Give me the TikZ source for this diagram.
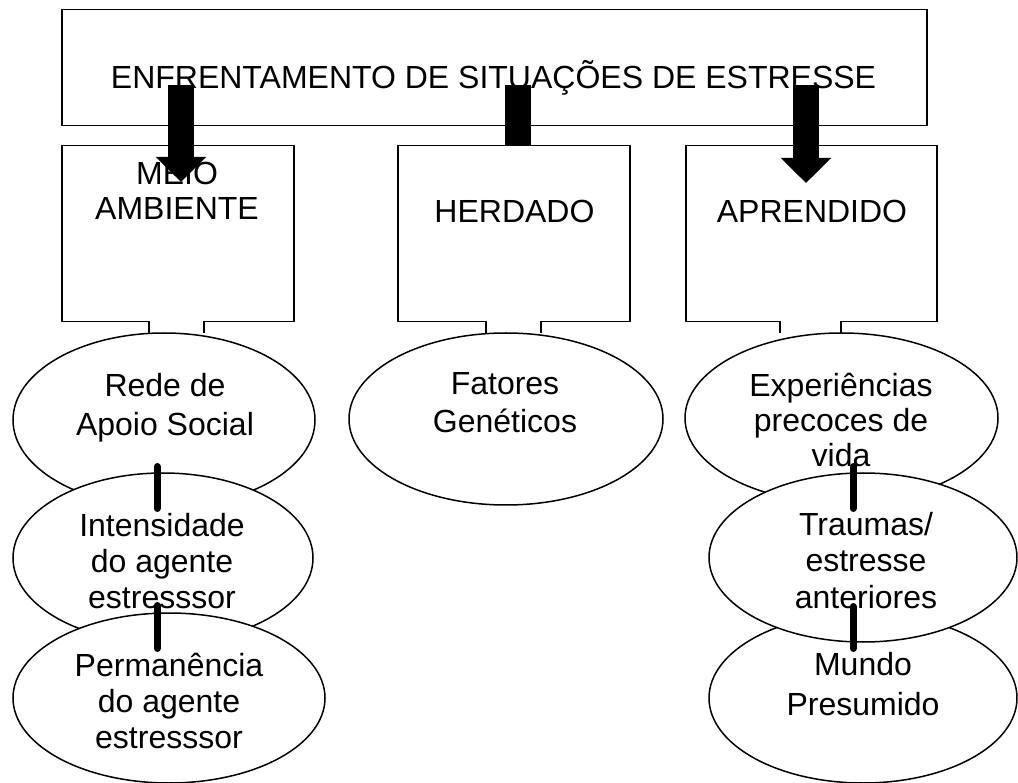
\documentclass[tikz,border=0pt]{standalone}
\usepackage{fontspec}
\setmainfont{Liberation Sans}
\usetikzlibrary{shapes.geometric,arrows.meta}
\begin{document}
\begin{tikzpicture}[x=1pt,y=-1pt,
  box/.style={draw, line width=1.5pt, fill=white, rectangle, inner sep=0pt, anchor=north west},
  ell/.style={draw, line width=1.5pt, fill=white, ellipse, inner sep=0pt},
  txt/.style={align=center, font=\fontsize{32}{37}\selectfont, inner sep=0pt, anchor=base},
  notch/.style={line width=1.5pt},
  gap/.style={white, line width=2.5pt},
  bigarrow/.style={line width=26pt, -{Triangle[width=49pt,length=25pt]}},
  shaft/.style={line width=26pt},
  link/.style={line width=7pt, line cap=round}]
\useasboundingbox (0,0) rectangle (1018,783);
\fill[white] (0,0) rectangle (1018,783);

% top box
\node[box, minimum width=865pt, minimum height=116pt] (top) at (61,9) {};
\node[txt] (title) at (493.5,89) {ENFRENTAMENTO DE SITUAÇÕES DE ESTRESSE};

% middle arrow (under box 2)
\coordinate (a2s) at (518,85);
\draw[shaft] (a2s) -- (a2s |- 0,145);

% three boxes
\node[box, minimum width=232pt, minimum height=176pt] (b1) at (61,145) {};
\node[box, minimum width=232pt, minimum height=176pt] (b2) at (397,145) {};
\node[box, minimum width=251pt, minimum height=176pt] (b3) at (685,145) {};
\node[txt, font=\fontsize{32}{35}\selectfont] (b1t) at (177,220) {MEIO\\AMBIENTE};
\node[txt] (b2t) at (514.5,223) {HERDADO};
\node[txt] (b3t) at (812,223) {APRENDIDO};

% notches at box bottoms
\draw[gap] (149,321) -- (204,321);
\draw[notch] (149,321) -- (149,333) (204,321) -- (204,333);
\draw[gap] (486,321) -- (541,321);
\draw[notch] (486,321) -- (486,333) (541,321) -- (541,333);
\draw[gap] (780,321) -- (841,321);
\draw[notch] (780,321) -- (780,333) (841,321) -- (841,333);

% arrows over boxes
\coordinate (a1s) at (181,85);
\coordinate (a1e) at (181,182);
\coordinate (a3s) at (806,85);
\coordinate (a3e) at (806,183);
\draw[bigarrow] (a1s) -- (a1e);
\draw[bigarrow] (a3s) -- (a3e);

% ellipses (drawing order gives the overlaps)
\node[ell, minimum width=302pt, minimum height=174pt] (rede) at (164,420) {};
\node[ell, minimum width=300pt, minimum height=170pt] (inten) at (163,558) {};
\node[ell, minimum width=312pt, minimum height=170pt] (perm) at (169,698) {};
\node[ell, minimum width=314pt, minimum height=172pt] (fat) at (506,419) {};
\node[ell, minimum width=313pt, minimum height=170pt] (exp) at (841.5,418) {};
\node[ell, minimum width=308pt, minimum height=170pt] (mundo) at (863,698) {};
\node[ell, minimum width=308pt, minimum height=169pt] (trau) at (863,557.5) {};

% ellipse texts (anchor = baseline of last line)
\node[txt, font=\fontsize{32}{39}\selectfont] (redet) at (165,436) {Rede de\\Apoio Social};
\node[txt, font=\fontsize{32}{36}\selectfont] (intent) at (162,608) {Intensidade\\do agente\\estresssor};
\node[txt, font=\fontsize{32}{36}\selectfont] (permt) at (169,748) {Permanência\\do agente\\estresssor};
\node[txt, font=\fontsize{32}{38}\selectfont] (fatt) at (505,433) {Fatores\\Genéticos};
\node[txt, font=\fontsize{32}{35}\selectfont] (expt) at (841,467) {Experiências\\precoces de\\vida};
\node[txt, font=\fontsize{32}{36.5}\selectfont] (traut) at (866,608) {Traumas/\\estresse\\anteriores};
\node[txt, font=\fontsize{32}{40}\selectfont] (mundot) at (863,715) {Mundo\\Presumido};

% thick links
\coordinate (l1a) at (157,466.5); \coordinate (l1b) at (157,508.5);
\coordinate (l2a) at (157,605.5); \coordinate (l2b) at (157,648.5);
\coordinate (r1a) at (853,466.5); \coordinate (r1b) at (853,508.5);
\coordinate (r2a) at (853,606.5); \coordinate (r2b) at (853,648.5);
\draw[link] (l1a) -- (l1b);
\draw[link] (l2a) -- (l2b);
\draw[link] (r1a) -- (r1b);
\draw[link] (r2a) -- (r2b);
\end{tikzpicture}
\end{document}
